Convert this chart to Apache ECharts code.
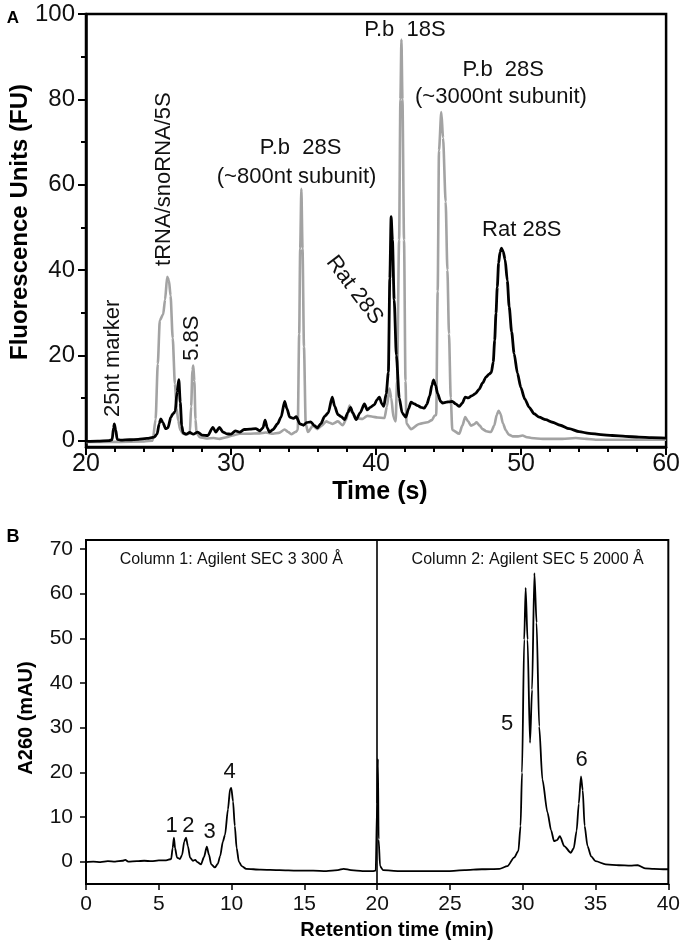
<!DOCTYPE html>
<html><head><meta charset="utf-8">
<script src="https://cdn.jsdelivr.net/npm/echarts@6/dist/echarts.min.js"></script>
<style>html,body{margin:0;padding:0;background:#fff}#c{width:683px;height:947px}</style>
</head><body><div id="c"></div>
<script>
// ---------- Panel A: Bioanalyzer electropherogram ----------
const ratTime = [20.0,20.8,21.6,21.8,21.9,21.95,22.05,22.15,22.4,23.0,23.6,24.2,24.7,24.9,25.05,25.16,25.3,25.5,25.65,25.85,26.0,26.15,26.28,26.4,26.5,26.6,26.7,26.9,27.15,27.4,27.7,28.0,28.4,28.75,28.95,29.2,29.45,29.7,30.0,30.3,30.6,30.9,31.3,31.7,32.0,32.2,32.35,32.5,32.65,32.9,33.2,33.45,33.7,33.85,34.05,34.3,34.5,34.75,35.0,35.2,35.5,35.75,35.95,36.2,36.45,36.7,36.98,37.15,37.37,37.6,37.83,38.05,38.24,38.4,38.63,38.9,39.2,39.4,39.6,39.88,40.05,40.23,40.4,40.53,40.7,40.85,40.95,41.04,41.13,41.25,41.4,41.6,41.8,42.05,42.25,42.41,42.65,42.87,43.1,43.33,43.5,43.7,43.85,43.97,44.1,44.25,44.45,44.6,44.85,45.05,45.25,45.5,45.74,45.95,46.15,46.35,46.6,46.85,47.1,47.35,47.58,47.8,47.95,48.08,48.18,48.27,48.36,48.45,48.55,48.65,48.77,48.9,49.05,49.18,49.35,49.52,49.75,49.98,50.25,50.56,50.9,51.25,51.7,52.16,52.7,53.31,54.0,54.69,55.5,56.29,57.2,58.13,59.0,60.0];
const ratFU = [-0.2,-0.1,0.0,0.2,3.0,3.9,2.5,0.3,0.1,0.2,0.3,0.5,0.8,1.5,4.0,5.1,4.2,2.8,3.0,5.5,6.3,6.8,11.5,14.3,9.0,3.5,1.8,1.5,1.9,1.5,2.0,1.3,1.2,3.1,2.0,3.1,2.0,1.6,1.5,2.3,2.0,2.6,2.7,2.8,2.3,3.0,4.8,3.0,2.0,2.6,3.9,5.5,9.2,7.5,5.5,5.2,5.6,3.9,3.6,4.2,4.4,3.5,3.0,4.0,5.7,6.5,10.2,8.0,6.1,5.6,4.9,6.5,7.8,6.5,4.9,6.5,8.6,7.2,7.8,8.4,9.5,10.2,8.6,8.0,11.0,16,38,52.5,47,33,20,10,6.5,5.5,7.5,9.0,8.6,8.2,7.8,7.6,8.5,10.5,13,14.2,13,11.0,9.2,8.8,9.0,9.1,9.2,8.6,8.0,8.8,10.2,10.0,10.5,11.0,12.0,13.5,14.9,15.6,16.0,18.4,23.5,29.8,36,41.6,44.2,45.1,44.3,42.4,37.5,31.4,25.5,20.4,15.8,12.5,9.8,7.8,6.3,5.5,4.9,4.3,3.6,2.8,2.1,1.7,1.4,1.2,1.0,0.8,0.7,0.6];
const pbTime = [20.0,22.0,24.0,24.6,24.8,24.95,25.09,25.32,25.45,25.6,25.72,25.83,25.98,26.13,26.25,26.36,26.5,26.7,26.95,27.16,27.25,27.34,27.4,27.47,27.55,27.62,27.85,28.3,28.8,29.2,29.7,30.1,30.6,31.2,31.98,32.4,32.9,33.3,33.7,33.95,34.15,34.45,34.6,34.7,34.77,34.85,34.93,35.03,35.15,35.3,35.65,35.95,36.25,36.57,36.8,37.0,37.37,37.7,37.95,38.17,38.35,38.6,39.08,39.4,39.77,40.1,40.58,40.75,40.92,41.05,41.2,41.35,41.45,41.59,41.68,41.75,41.82,41.93,42.03,42.1,42.41,42.98,43.56,43.85,44.05,44.15,44.25,44.34,44.5,44.62,44.8,44.92,45.03,45.15,45.26,45.74,45.95,46.15,46.35,46.54,46.75,46.93,47.15,47.34,47.6,47.92,48.15,48.32,48.45,48.58,48.75,48.95,49.15,49.41,49.8,50.1,50.4,50.7,51.5,52.85,53.77,54.5,55.15,57.0,60.0];
const pbFU = [-0.3,-0.3,-0.2,0.0,5,18,28.2,29.6,33,38.4,37.5,34,24,13.3,7.5,4.7,2.5,1.6,1.4,1.8,8,16.5,17.6,14,5,1.8,0.8,0.5,0.6,0.4,0.8,1.2,1.6,1.6,1.7,1.9,1.6,1.8,2.6,2.0,1.5,2.0,2.5,25,45,59,45,22,4,2.0,3.5,2.7,3.5,4.5,4.2,3.9,4.5,3.6,5.0,8.2,6.5,5.2,5.1,5.8,5.6,5.4,5.3,8,12.2,10,5.5,4.5,14,47,80,94,80,47,14,4,2.7,3.9,4.3,4.8,5.9,6,35,68,77,71,56,40,25,10,2.5,1.6,3.5,5.5,4.5,3.5,3.8,4.3,3.5,2.7,2.2,2.0,3.5,6.0,7.0,6.3,4.0,2.4,1.4,1.0,1.0,1.2,0.8,0.6,0.4,0.4,0.6,0.4,0.2,0.2,0.2];
const aYLabels = [0,20,40,60,80,100];
const aYMinor = [10,30,50,70,90];

// ---------- Panel B: SEC chromatogram ----------
const secTime = [0.0,0.5,1.0,1.5,2.0,2.5,2.7,2.9,3.5,4.0,4.5,5.0,5.5,5.85,5.95,6.04,6.12,6.25,6.45,6.6,6.75,6.87,7.0,7.15,7.35,7.5,7.65,7.9,8.1,8.3,8.45,8.6,8.85,9.05,9.22,9.4,9.55,9.75,9.9,9.98,10.1,10.22,10.35,10.5,10.7,11.0,12.0,13.3,14.5,15.6,16.5,17.3,17.7,18.2,19.0,19.7,19.9,20.0,20.05,20.1,20.2,20.4,21.5,23.0,24.9,26.0,27.2,28.4,28.95,29.4,29.7,29.85,29.95,30.1,30.2,30.33,30.5,30.64,30.8,30.95,31.13,31.35,31.7,31.95,32.15,32.35,32.55,32.85,33.3,33.5,33.7,33.85,34.0,34.12,34.25,34.45,34.7,35.0,35.7,36.6,37.4,37.9,38.4,39.0,39.8,40.0];
const secA260 = [-0.1,0.0,-0.1,0.1,0.0,0.2,0.4,0.0,0.1,0.2,0.1,0.3,0.3,0.6,3.0,5.4,3.0,0.9,0.6,1.5,4.5,5.4,3.5,0.9,0.2,0.4,-0.1,-0.6,1.0,3.35,1.5,-0.6,-1.3,-0.5,1.3,4.5,6.0,11.7,16.3,16.5,13.5,8.0,3.0,0.0,-1.0,-1.6,-1.8,-1.9,-2.0,-2.0,-2.1,-1.9,-1.6,-1.9,-2.1,-2.1,-2.0,13,23,5,-1.0,-1.9,-2.1,-2.1,-2.1,-1.9,-1.7,-1.6,-1.0,0.9,2.4,8,19.9,49.7,61.3,49.7,26.6,38.5,64.6,53.5,30.3,18.4,11.0,7.0,4.6,4.8,5.7,3.5,2.0,3.0,6.9,13,19.1,16,8,3.5,1.2,0.1,-0.6,-0.8,-0.9,-0.8,-1.5,-1.6,-1.7,-1.7];
const bYLabels = [0,10,20,30,40,50,60,70];
const columnDivider = 20;

// annotation texts anchored in data units
const annotA = [
  {text:'25nt marker', t:21.86, v:19.3, rot:90},
  {text:'tRNA/snoRNA/5S', t:25.37, v:61.3, rot:90},
  {text:'5.8S', t:27.33, v:24.0, rot:90},
  {text:'P.b  28S', t:34.8, v:68.6, rot:0},
  {text:'(~800nt subunit)', t:34.52, v:61.8, rot:0},
  {text:'Rat 28S', t:38.51, v:35.3, rot:-53},
  {text:'P.b  18S', t:41.99, v:96.2, rot:0},
  {text:'P.b  28S', t:48.77, v:86.9, rot:0},
  {text:'(~3000nt subunit)', t:48.61, v:80.5, rot:0},
  {text:'Rat 28S', t:50.05, v:49.4, rot:0}
];
const annotB = [
  {text:'Column 1: Agilent SEC 3 300 Å', t:9.98, v:67.7, size:16},
  {text:'Column 2: Agilent SEC 5 2000 Å', t:30.34, v:67.7, size:16},
  {text:'1', t:5.88, v:8.0, size:22},
  {text:'2', t:7.04, v:8.0, size:22},
  {text:'3', t:8.49, v:6.6, size:22},
  {text:'4', t:9.86, v:20.1, size:22},
  {text:'5', t:28.93, v:30.9, size:22},
  {text:'6', t:34.05, v:22.7, size:22}
];

const FONT = 'Liberation Sans, Arial, Helvetica, sans-serif';
const zip = (a, b) => a.map((x, i) => [x, b[i]]);

const chart = echarts.init(document.getElementById('c'), null, {renderer:'canvas'});
const axisCommon = {
  splitLine:{show:false},
  axisLine:{show:true, onZero:false, lineStyle:{color:'#000', width:2}},
  axisTick:{show:true, inside:false, lineStyle:{color:'#000', width:1.5}}
};
chart.setOption({
  animation:false,
  backgroundColor:'#fff',
  grid:[
    {left:86, right:14, top:14, height:433, show:true, borderColor:'#000', borderWidth:2.5, backgroundColor:'transparent'},
    {left:86, right:13, top:540, height:344, show:true, borderColor:'#000', borderWidth:2, backgroundColor:'transparent'}
  ],
  xAxis:[
    Object.assign({}, axisCommon, {type:'value', gridIndex:0, min:20, max:60, interval:10,
      axisLine:{show:true, onZero:false, lineStyle:{color:'#000', width:2.5}},
      axisTick:{show:true, length:8, lineStyle:{color:'#000', width:2}},
      minorTick:{show:true, splitNumber:5, length:5, lineStyle:{color:'#000', width:2}},
      axisLabel:{fontFamily:FONT, fontSize:25, color:'#111', margin:5}}),
    Object.assign({}, axisCommon, {type:'value', gridIndex:1, min:0, max:40, interval:5,
      axisTick:{show:true, length:6, lineStyle:{color:'#000', width:1.5}},
      axisLabel:{fontFamily:FONT, fontSize:21, color:'#111', margin:10}})
  ],
  yAxis:[
    Object.assign({}, axisCommon, {type:'value', gridIndex:0, position:'left', min:-1.5, max:100,
      axisLine:{show:true, onZero:false, lineStyle:{color:'#000', width:2.5}},
      axisTick:{show:true, length:8, customValues:aYLabels, lineStyle:{color:'#000', width:2}},
      axisLabel:{fontFamily:FONT, fontSize:24, color:'#111', margin:11, customValues:aYLabels}}),
    {type:'value', gridIndex:0, position:'left', min:-1.5, max:100, splitLine:{show:false},
      axisLine:{show:false}, axisLabel:{show:false},
      axisTick:{show:true, length:5, customValues:aYMinor, lineStyle:{color:'#000', width:2}}},
    Object.assign({}, axisCommon, {type:'value', gridIndex:1, position:'left', min:-5, max:72,
      axisTick:{show:true, length:6, customValues:bYLabels, lineStyle:{color:'#000', width:1.5}},
      axisLabel:{fontFamily:FONT, fontSize:21, color:'#111', margin:13, customValues:bYLabels}})
  ],
  series:[
    {type:'line', name:'P.b', xAxisIndex:0, yAxisIndex:0, data:zip(pbTime, pbFU), showSymbol:false,
      smooth:0.25, smoothMonotone:'x', lineStyle:{color:'#a3a3a3', width:2.6}, z:2},
    {type:'line', name:'Rat', xAxisIndex:0, yAxisIndex:0, data:zip(ratTime, ratFU), showSymbol:false,
      smooth:0.25, smoothMonotone:'x', lineStyle:{color:'#000', width:2.8}, z:3},
    {type:'line', name:'SEC', xAxisIndex:1, yAxisIndex:2, data:zip(secTime, secA260), showSymbol:false,
      smooth:0.25, smoothMonotone:'x', lineStyle:{color:'#000', width:1.8}, z:3,
      markLine:{silent:true, symbol:['none','none'], label:{show:false},
        lineStyle:{color:'#000', width:1.6, type:'solid'}, data:[{xAxis:columnDivider}]}}
  ]
});

const g = [];
annotA.forEach(a => {
  const p = chart.convertToPixel({xAxisIndex:0, yAxisIndex:0}, [a.t, a.v]);
  g.push({type:'text', x:p[0], y:p[1], rotation:a.rot*Math.PI/180, z:10,
    style:{text:a.text, fontFamily:FONT, fontSize:22, fill:'#111', align:'center', verticalAlign:'middle'}});
});
annotB.forEach(a => {
  const p = chart.convertToPixel({xAxisIndex:1, yAxisIndex:2}, [a.t, a.v]);
  g.push({type:'text', x:p[0], y:p[1], z:10,
    style:{text:a.text, fontFamily:FONT, fontSize:a.size, fill:'#111', align:'center', verticalAlign:'middle'}});
});
const titles = [
  {text:'Fluorescence Units (FU)', x:20, y:222, rot:90, size:24},
  {text:'Time (s)', x:380, y:492, rot:0, size:25},
  {text:'A260 (mAU)', x:26, y:718, rot:90, size:20},
  {text:'Retention time (min)', x:397, y:930, rot:0, size:20},
  {text:'A', x:13, y:18, rot:0, size:17},
  {text:'B', x:13, y:537, rot:0, size:18}
];
titles.forEach(t => g.push({type:'text', x:t.x, y:t.y, rotation:t.rot*Math.PI/180, z:10,
  style:{text:t.text, fontFamily:FONT, fontSize:t.size, fontWeight:'bold', fill:'#000', align:'center', verticalAlign:'middle'}}));
chart.setOption({graphic:g});
</script>
</body></html>
